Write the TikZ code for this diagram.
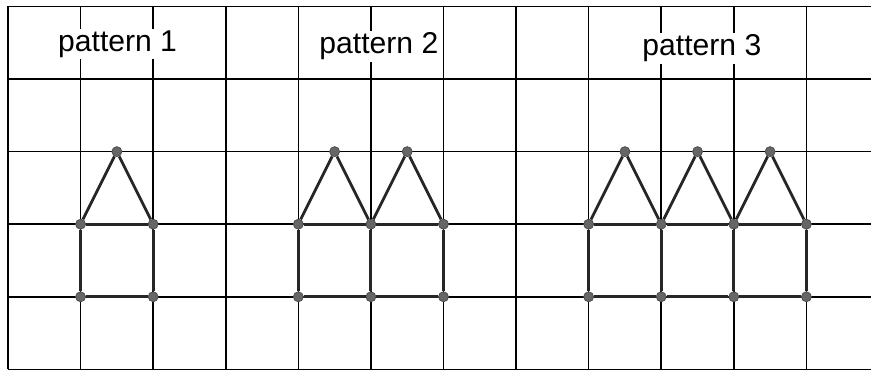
\documentclass[tikz,border=0pt]{standalone}
\usepackage{fontspec}
\setmainfont{Liberation Sans}
\begin{document}
\begin{tikzpicture}[
  gridline/.style={line width=0.6pt, black},
  edge/.style={line width=1.1pt, black!85},
  dot/.style={circle, fill=black!60, draw=black!70, line width=0.3pt, inner sep=0pt, minimum size=3.9pt},
  lbl/.style={font=\fontsize{11.8}{13}\selectfont, fill=white, inner sep=0.6pt}
]
\useasboundingbox (-0.11,-0.05) rectangle (11.89,5.089);
% grid
\foreach \i in {0,...,11} \draw[gridline] (\i,0) -- (\i,5);
\foreach \j in {0,...,5} \draw[gridline] (0,\j) -- (11.89,\j);
% labels
\node[lbl] (l1) at (1.51,4.48) {pattern 1};
\node[lbl] (l2) at (5.11,4.45) {pattern 2};
\node[lbl] (l3) at (9.56,4.42) {pattern 3};
% pattern 1
\foreach \x in {1,2} {
  \node[dot] (a\x) at (\x,1) {};
  \node[dot] (b\x) at (\x,2) {};
}
\node[dot] (t1) at (1.5,3) {};
\draw[edge] (a1) -- (a2) -- (b2) -- (b1) -- (a1);
\draw[edge] (b1) -- (t1) -- (b2);
% pattern 2
\foreach \x in {4,5,6} {
  \node[dot] (c\x) at (\x,1) {};
  \node[dot] (d\x) at (\x,2) {};
}
\node[dot] (u1) at (4.5,3) {};
\node[dot] (u2) at (5.5,3) {};
\draw[edge] (c4) -- (c5) -- (c6) -- (d6) -- (d5) -- (d4) -- (c4);
\draw[edge] (c5) -- (d5);
\draw[edge] (d4) -- (u1) -- (d5) -- (u2) -- (d6);
% pattern 3
\foreach \x in {8,9,10,11} {
  \node[dot] (e\x) at (\x,1) {};
  \node[dot] (f\x) at (\x,2) {};
}
\node[dot] (v1) at (8.5,3) {};
\node[dot] (v2) at (9.5,3) {};
\node[dot] (v3) at (10.5,3) {};
\draw[edge] (e8) -- (e9) -- (e10) -- (e11) -- (f11) -- (f10) -- (f9) -- (f8) -- (e8);
\draw[edge] (e9) -- (f9);
\draw[edge] (e10) -- (f10);
\draw[edge] (f8) -- (v1) -- (f9) -- (v2) -- (f10) -- (v3) -- (f11);
\end{tikzpicture}
\end{document}
